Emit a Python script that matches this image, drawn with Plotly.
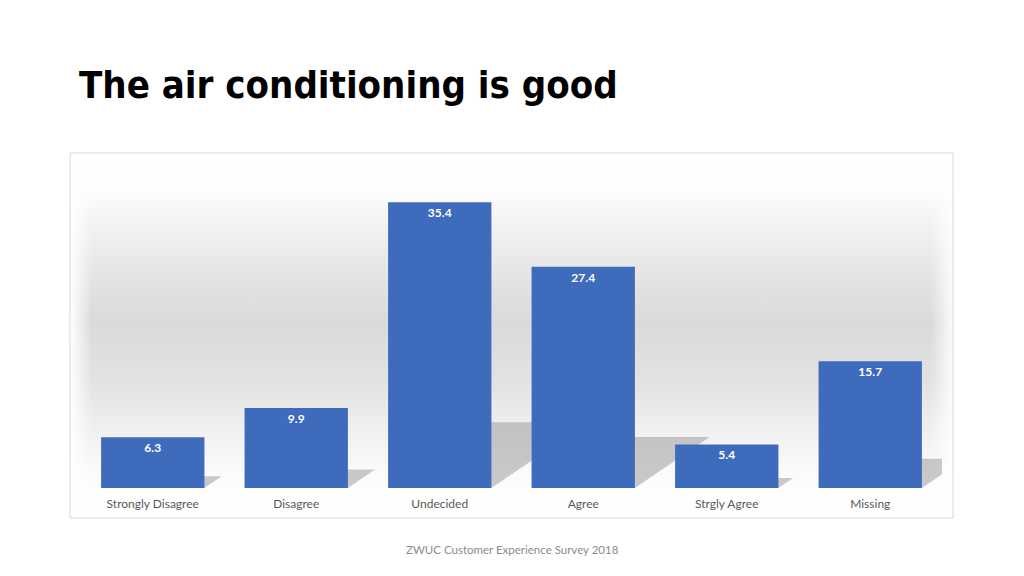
import base64
import plotly.graph_objects as go

# survey answers (percent)
categories = ['Strongly Disagree', 'Disagree', 'Undecided', 'Agree', 'Strgly Agree', 'Missing']
percent = [6.3, 9.9, 35.4, 27.4, 5.4, 15.7]
value_labels = ['6.3', '9.9', '35.4', '27.4', '5.4', '15.7']

title_text = 'The air conditioning is good'
footer_text = 'ZWUC Customer Experience Survey 2018'

# page has an 8px body margin, so the figure is a bit smaller and shifted
OFF = 8
W, H = 1024 - OFF, 576 - OFF
bar_w = 0.72


def px(x):
    return (x - OFF) / W


def py(y):
    return 1 - (y - OFF) / H


# soft grey backdrop of the chart box (svg gradient as a data uri)
svg = '''<svg xmlns="http://www.w3.org/2000/svg" width="883" height="365" preserveAspectRatio="none">
<defs>
<linearGradient id="v" x1="0" y1="0" x2="0" y2="1">
<stop offset="0" stop-color="#ffffff"/>
<stop offset="0.10" stop-color="#fdfdfd"/>
<stop offset="0.30" stop-color="#e8e8e8"/>
<stop offset="0.46" stop-color="#dadada"/>
<stop offset="0.62" stop-color="#e2e2e2"/>
<stop offset="0.80" stop-color="#f4f4f4"/>
<stop offset="0.92" stop-color="#fefefe"/>
<stop offset="1" stop-color="#ffffff"/>
</linearGradient>
<linearGradient id="h" x1="0" y1="0" x2="1" y2="0">
<stop offset="0" stop-color="#ffffff" stop-opacity="1"/>
<stop offset="0.025" stop-color="#ffffff" stop-opacity="0"/>
<stop offset="0.975" stop-color="#ffffff" stop-opacity="0"/>
<stop offset="1" stop-color="#ffffff" stop-opacity="0.9"/>
</linearGradient>
</defs>
<rect width="883" height="365" fill="url(#v)"/>
<rect width="883" height="365" fill="url(#h)"/>
</svg>'''
bg_src = 'data:image/svg+xml;base64,' + base64.b64encode(svg.encode()).decode()

# perspective shadows falling to the upper right of each bar (drawn below the bars)
shadows = []
for i, v in enumerate(percent):
    sh = 0.23 * v
    dx = 0.019 * v
    x0, x1 = i - bar_w / 2, i + bar_w / 2
    path = f'M {x0},0 L {x1},0 L {x1 + dx},{sh} L {x0 + dx},{sh} Z'
    shadows.append(dict(type='path', path=path, xref='x', yref='y', layer='below',
                        fillcolor='rgba(150,150,150,0.5)', line=dict(width=0)))

fig = go.Figure()

fig.add_trace(go.Bar(
    x=list(range(len(categories))), y=percent, width=bar_w,
    marker=dict(color='#3f6bbd', line=dict(width=0)),
    text=value_labels, textposition='inside', insidetextanchor='end',
    textfont=dict(family='Lato', size=12, color='white', weight='bold'),
    showlegend=False, hoverinfo='x+y'))

fig.update_layout(
    width=W, height=H,
    margin=dict(l=0, r=0, t=0, b=0),
    paper_bgcolor='white', plot_bgcolor='rgba(0,0,0,0)',
    xaxis=dict(domain=[px(81), px(942)], range=[-0.5, 5.5],
               tickmode='array', tickvals=list(range(len(categories))), ticktext=categories,
               showgrid=False, zeroline=False, showline=False, ticks='',
               tickfont=dict(family='Lato', size=12, color='#595959'), ticklabelstandoff=7),
    yaxis=dict(domain=[py(488), py(165)], range=[0, 40],
               visible=False, showgrid=False, zeroline=False),
    images=[dict(source=bg_src, xref='paper', yref='paper',
                 x=px(70), y=py(153), sizex=883 / W, sizey=365 / H,
                 sizing='stretch', xanchor='left', yanchor='top', layer='below')],
    shapes=shadows + [dict(type='rect', xref='paper', yref='paper',
                           x0=px(70), x1=px(953), y0=py(518), y1=py(153),
                           line=dict(color='#d9d9d9', width=1), fillcolor='rgba(0,0,0,0)')],
    annotations=[
        dict(text=title_text, xref='paper', yref='paper', x=px(77), y=py(85),
             xanchor='left', yanchor='middle', showarrow=False,
             font=dict(family='DejaVu Sans Condensed, DejaVu Sans', size=38,
                       color='black', weight='bold')),
        dict(text=footer_text, xref='paper', yref='paper', x=px(512), y=py(549),
             xanchor='center', yanchor='middle', showarrow=False,
             font=dict(family='Lato', size=11.5, color='#8c8c8c')),
    ],
)

fig.write_html('out.html')
